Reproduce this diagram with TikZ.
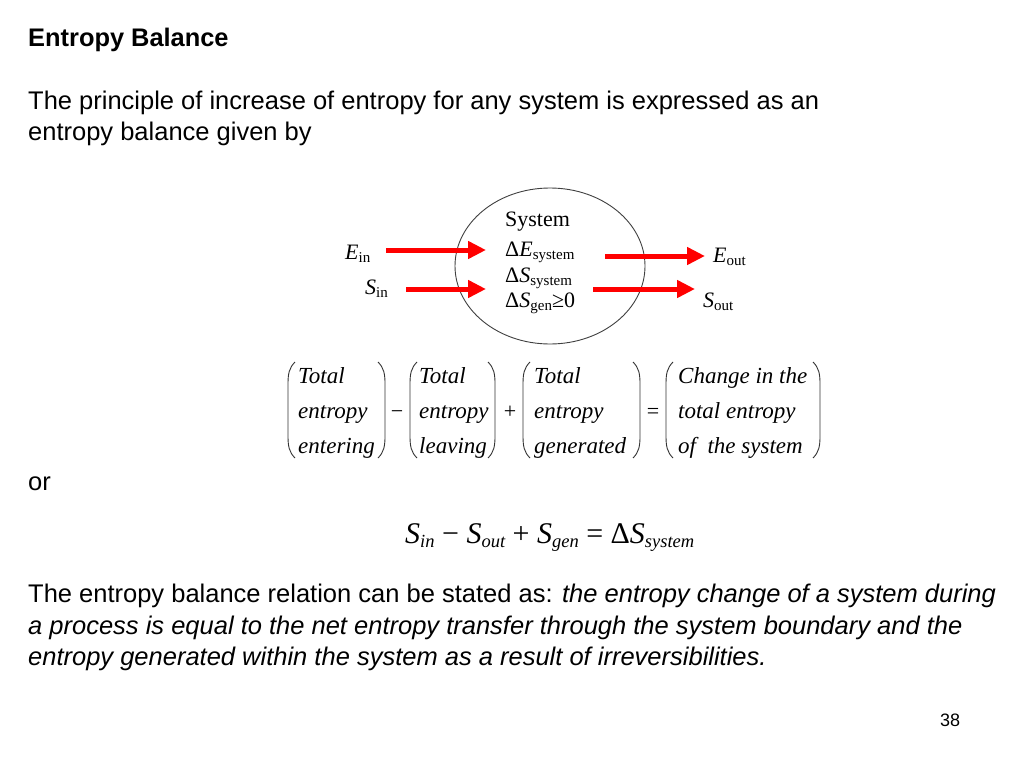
\documentclass[tikz,border=0pt]{standalone}
\usepackage{fontspec}
\setmainfont{Liberation Sans}
\newfontfamily\tms{Liberation Serif}
\usetikzlibrary{arrows.meta}
\newcommand\sbx[1]{\raisebox{-0.3ex}{\fontsize{15}{15}\selectfont #1}}
\newcommand\sbq[1]{\raisebox{-0.35ex}{\fontsize{18.5}{20}\selectfont\itshape #1}}
\newcommand\myLP[1]{\draw[parenline] ({#1+7},362) .. controls ({#1+1},368) and (#1,374) .. (#1,384) -- (#1,436) .. controls (#1,446) and ({#1+1},452) .. ({#1+7},458);}
\newcommand\myRP[1]{\draw[parenline] ({#1-7},362) .. controls ({#1-1},368) and (#1,374) .. (#1,384) -- (#1,436) .. controls (#1,446) and ({#1-1},452) .. ({#1-7},458);}
\begin{document}
\begin{tikzpicture}[x=1pt,y=-1pt,
  body/.style={anchor=base west,inner sep=0pt,font=\fontsize{25.5}{30}\selectfont},
  sysf/.style={anchor=base west,inner sep=0pt,font=\tms\fontsize{22}{26}\selectfont},
  eqf/.style={anchor=base west,inner sep=0pt,font=\tms\itshape\fontsize{23}{26}\selectfont},
  opf/.style={anchor=base,inner sep=0pt,font=\tms\fontsize{22}{26}\selectfont},
  redarrow/.style={draw=red,line width=5pt,-{Triangle[length=18pt,width=17pt]}},
  parenline/.style={draw=black!80,line width=0.9pt}]
\fill[white] (0,0) rectangle (1024,768);
\useasboundingbox (0,0) rectangle (1024,768);

\node[body,font=\bfseries\fontsize{25.4}{30}\selectfont] (title) at (28,47) {Entropy Balance};
\node[body] (intro1) at (28,109) {The principle of increase of entropy for any system is expressed as an};
\node[body] (intro2) at (28,140) {entropy balance given by};

% system diagram
\draw[black!75,line width=0.9pt] (550,266) ellipse [x radius=95,y radius=78];
\node[sysf] (sys) at (505,226) {System};
\node[sysf] (dE) at (505,256) {Δ\textit{E}\sbx{system}};
\node[sysf] (dS) at (505,282) {Δ\textit{S}\sbx{system}};
\node[sysf] (dSg) at (505,307) {Δ\textit{S}\sbx{gen}≥0};

\node[sysf] (Ein) at (345,259) {\textit{E}\sbx{in}};
\node[sysf] (Sin) at (365,294) {\textit{S}\sbx{in}};
\node[sysf] (Eout) at (713,262) {\textit{E}\sbx{out}};
\node[sysf] (Sout) at (703,307) {\textit{S}\sbx{out}};

\coordinate (a1s) at (386,250); \coordinate (a1e) at (486,250);
\coordinate (a2s) at (406,289); \coordinate (a2e) at (486,289);
\coordinate (a3s) at (605,256); \coordinate (a3e) at (705,256);
\coordinate (a4s) at (593,289); \coordinate (a4e) at (695,289);
\draw[redarrow] (a1s) -- (a1e);
\draw[redarrow] (a2s) -- (a2e);
\draw[redarrow] (a3s) -- (a3e);
\draw[redarrow] (a4s) -- (a4e);

% word equation
\myLP{288}\myRP{385}
\myLP{410}\myRP{495}
\myLP{523}\myRP{640}
\myLP{666}\myRP{820}
\node[eqf] (g1a) at (298,383) {Total};
\node[eqf] (g1b) at (298,418) {entropy};
\node[eqf] (g1c) at (298,453) {entering};
\node[opf] (minus) at (397,418) {−};
\node[eqf] (g2a) at (419,383) {Total};
\node[eqf] (g2b) at (419,418) {entropy};
\node[eqf] (g2c) at (419,453) {leaving};
\node[opf] (plus) at (510,418) {+};
\node[eqf] (g3a) at (534,383) {Total};
\node[eqf] (g3b) at (534,418) {entropy};
\node[eqf] (g3c) at (534,453) {generated};
\node[opf] (eq) at (653,418) {=};
\node[eqf] (g4a) at (678,383) {Change in the};
\node[eqf] (g4b) at (678,418) {total entropy};
\node[eqf] (g4c) at (678,453) {of \ the system};

\node[body] (or) at (28,490) {or};

\node[anchor=base west,inner sep=0pt,font=\tms\fontsize{30}{34}\selectfont] (seq) at (405,543)
 {\textit{S}\sbq{in} − \textit{S}\sbq{out} + \textit{S}\sbq{gen} = Δ\textit{S}\sbq{system}};

\node[body] (p1) at (28,602) {The entropy balance relation can be stated as: \textit{the entropy change of a system during}};
\node[body] (p2) at (28,634) {\textit{a process is equal to the net entropy transfer through the system boundary and the}};
\node[body] (p3) at (28,665) {\textit{entropy generated within the system as a result of irreversibilities.}};

\node[anchor=base west,inner sep=0pt,font=\fontsize{18}{22}\selectfont] (page) at (940,726) {38};
\end{tikzpicture}
\end{document}
